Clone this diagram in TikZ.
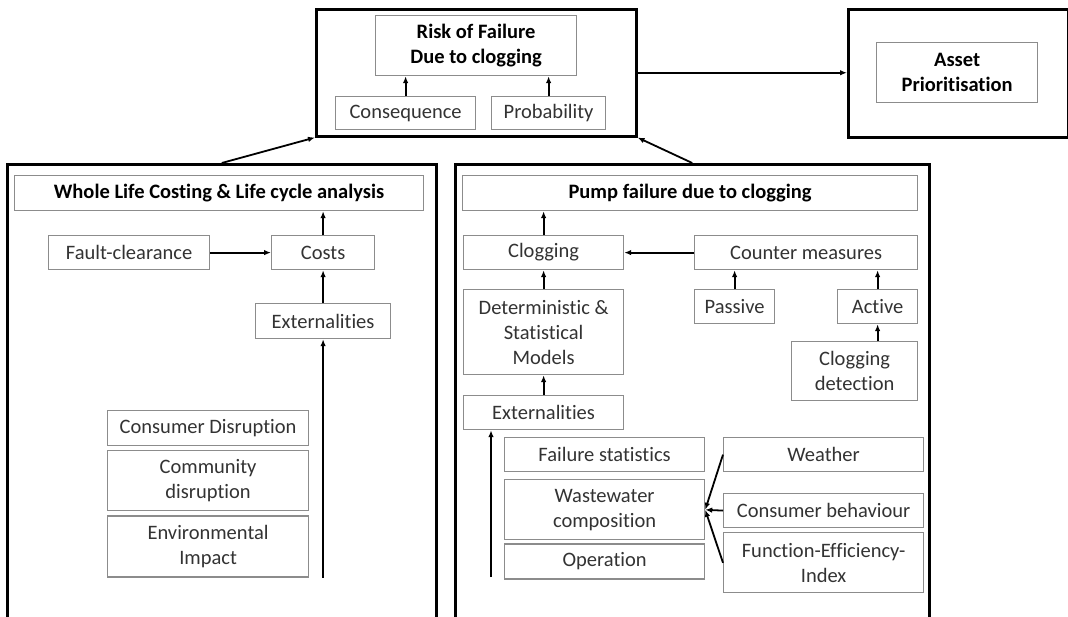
\documentclass[tikz,border=0pt]{standalone}
\usepackage{fontspec}
\setmainfont[Ligatures=NoCommon]{Carlito}
\usetikzlibrary{positioning,arrows.meta}

\begin{document}
\begin{tikzpicture}[x=1pt, y=-1pt,
    outer/.style = {draw, line width=2.5pt, inner sep=0pt, anchor=north west},
    main/.style = {draw=black!45, line width=1.2pt, inner sep=0pt, anchor=north west, align=center, text=black!80, font=\fontsize{20.5}{25}\selectfont},
    head/.style = {main, text=black, font=\fontsize{20.5}{25}\selectfont\bfseries},
    arr/.style = {-{Latex[length=7pt,width=5.5pt]}, line width=1.8pt}]

    \useasboundingbox (0,0) rectangle (1068,616);
    \clip (0,0) rectangle (1068,616);
    \fill[white] (0,0) rectangle (1068,616);

    % risk of failure
    \node[outer, minimum width=320pt, minimum height=127pt] (riskbox) at (315,8) {};
    \node[head, minimum width=201pt, minimum height=60pt] (risk) at (375,15) {Risk of Failure\\Due to clogging};
    \node[main, minimum width=140pt, minimum height=33pt] (cons) at (335,96) {Consequence};
    \node[main, minimum width=114pt, minimum height=33pt] (prob) at (491,96) {Probability};
    \draw[arr] (cons.north) -- (cons.north |- risk.south);
    \draw[arr] (prob.north) -- (prob.north |- risk.south);

    % asset prioritisation
    \node[outer, minimum width=220pt, minimum height=128pt] (assetbox) at (847,8) {};
    \node[head, minimum width=161pt, minimum height=60pt] (asset) at (876,42) {Asset\\Prioritisation};
    \draw[arr] (riskbox.east) -- (riskbox.east -| assetbox.west);

    % whole life costing
    \node[outer, minimum width=429pt, minimum height=480pt] (wlc) at (6,163) {};
    \node[head, minimum width=409pt, minimum height=35pt] (wlchead) at (14,175) {Whole Life Costing \& Life cycle analysis};
    \node[main, minimum width=161pt, minimum height=34pt] (fault) at (48,235) {Fault-clearance};
    \node[main, minimum width=103pt, minimum height=34pt] (costs) at (271,235) {Costs};
    \node[main, minimum width=135pt, minimum height=35pt] (ext1) at (255,303) {Externalities};
    \node[main, minimum width=201pt, minimum height=35pt] (consdis) at (107,410) {Consumer Disruption};
    \node[main, minimum width=201pt, minimum height=60pt, below=4pt of consdis] (commdis) {Community\\disruption};
    \node[main, minimum width=201pt, minimum height=61pt, below=4pt of commdis] (envimp) {Environmental\\Impact};

    \draw[arr] (fault.east) -- (costs.west);
    \draw[arr] (costs.north) -- (costs.north |- wlchead.south);
    \draw[arr] (ext1.north) -- (costs.south);
    \draw[arr] (ext1.south |- envimp.south) -- (ext1.south);
    \draw[arr] (wlc.north) -- (riskbox.south west);

    % pump failure
    \node[outer, minimum width=474pt, minimum height=480pt] (pump) at (454,163) {};
    \node[head, minimum width=455pt, minimum height=35pt] (pumphead) at (462,175) {Pump failure due to clogging};
    \node[main, minimum width=160pt, minimum height=34pt] (clog) at (463,235) {Clogging};
    \node[main, minimum width=223pt, minimum height=34pt] (counter) at (694,235) {Counter measures};
    \node[main, minimum width=160pt, minimum height=85pt] (determ) at (463,289) {Deterministic \&\\Statistical\\Models};
    \node[main, minimum width=80pt, minimum height=34pt] (passive) at (694,289) {Passive};
    \node[main, minimum width=80pt, minimum height=34pt] (active) at (837,289) {Active};
    \node[main, minimum width=126pt, minimum height=59pt] (clogdet) at (791,341) {Clogging\\detection};
    \node[main, minimum width=160pt, minimum height=34pt] (ext2) at (463,395) {Externalities};
    \node[main, minimum width=200pt, minimum height=34pt] (failstat) at (504,437) {Failure statistics};
    \node[main, minimum width=200pt, minimum height=60pt, below=7pt of failstat] (wastew) {Wastewater\\composition};
    \node[main, minimum width=200pt, minimum height=35pt, below=3pt of wastew] (oper) {Operation};
    \node[main, minimum width=200pt, minimum height=34pt] (weather) at (723,437) {Weather};
    \node[main, minimum width=200pt, minimum height=34pt] (consbeh) at (723,493) {Consumer behaviour};
    \node[main, minimum width=200pt, minimum height=60pt, below=4pt of consbeh] (funceff) {Function-Efficiency-\\Index};
    \coordinate (extfoot) at (491,577);

    \draw[arr] (clog.north) -- (clog.north |- pumphead.south);
    \draw[arr] (counter.west) -- (clog.east);
    \draw[arr] (passive.north) -- (passive.north |- counter.south);
    \draw[arr] (active.north) -- (active.north |- counter.south);
    \draw[arr] (active.south |- clogdet.north) -- (active.south);
    \draw[arr] (determ.north) -- (clog.south);
    \draw[arr] (ext2.north) -- (determ.south);
    \draw[arr] (extfoot) -- (extfoot |- ext2.south);
    \draw[arr] (weather.west) -- (wastew.east);
    \draw[arr] (consbeh.west) -- (wastew.east);
    \draw[arr] (funceff.west) -- (wastew.east);
    \draw[arr] (pump.north) -- (riskbox.south east);

\end{tikzpicture}
\end{document}
